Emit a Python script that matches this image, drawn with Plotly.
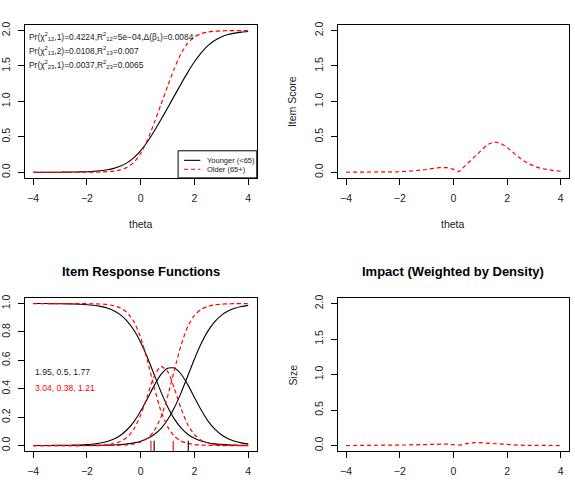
import plotly.graph_objects as go

# ---------------- data ----------------
theta = [-4.0, -3.75, -3.5, -3.25, -3.0, -2.75, -2.5, -2.25, -2.0, -1.75, -1.5, -1.25, -1.0,
         -0.75, -0.5, -0.25, 0.0, 0.25, 0.5, 0.75, 1.0, 1.25, 1.5, 1.75, 2.0, 2.25, 2.5,
         2.75, 3.0, 3.25, 3.5, 3.75, 4.0]

score_younger = [0.000, 0.000, 0.000, 0.001, 0.001, 0.002, 0.003, 0.005, 0.008, 0.013, 0.022,
                 0.035, 0.055, 0.088, 0.136, 0.207, 0.305, 0.430, 0.578, 0.740, 0.908, 1.078,
                 1.247, 1.410, 1.559, 1.686, 1.786, 1.859, 1.909, 1.943, 1.964, 1.978, 1.986]
score_older = [0.000, 0.000, 0.000, 0.000, 0.000, 0.000, 0.000, 0.000, 0.001, 0.002, 0.004,
               0.008, 0.016, 0.034, 0.070, 0.140, 0.264, 0.454, 0.694, 0.953, 1.214, 1.464,
               1.675, 1.822, 1.910, 1.956, 1.979, 1.990, 1.995, 1.998, 1.999, 2.000, 2.000]

theta_diff = [-4.0, -3.5, -3.0, -2.5, -2.0, -1.75, -1.5, -1.25, -1.0, -0.75, -0.5, -0.25, 0.0,
              0.1, 0.2, 0.25, 0.5, 0.75, 1.0, 1.25, 1.5, 1.75, 2.0, 2.25, 2.5, 2.75, 3.0,
              3.25, 3.5, 3.75, 4.0]
item_score_diff = [0.000, 0.000, 0.001, 0.003, 0.007, 0.012, 0.018, 0.027, 0.039, 0.054, 0.066,
                   0.067, 0.041, 0.019, 0.008, 0.024, 0.116, 0.213, 0.306, 0.386, 0.428, 0.413,
                   0.350, 0.270, 0.193, 0.131, 0.086, 0.055, 0.035, 0.022, 0.014]
impact_weighted = [0.000, 0.000, 0.001, 0.002, 0.004, 0.006, 0.009, 0.012, 0.016, 0.020, 0.022,
                   0.021, 0.012, 0.006, 0.003, 0.006, 0.028, 0.040, 0.040, 0.033, 0.025, 0.018,
                   0.012, 0.008, 0.005, 0.003, 0.002, 0.001, 0.001, 0.000, 0.000]

p0_younger = [1.000, 1.000, 1.000, 0.999, 0.999, 0.998, 0.997, 0.995, 0.992, 0.988, 0.980, 0.968,
              0.949, 0.920, 0.875, 0.812, 0.726, 0.620, 0.500, 0.380, 0.274, 0.188, 0.125, 0.080,
              0.051, 0.032, 0.020, 0.012, 0.008, 0.005, 0.003, 0.002, 0.001]
p1_younger = [0.000, 0.000, 0.000, 0.001, 0.001, 0.002, 0.003, 0.004, 0.007, 0.011, 0.018, 0.029,
              0.046, 0.073, 0.113, 0.169, 0.243, 0.331, 0.422, 0.499, 0.544, 0.546, 0.504, 0.429,
              0.339, 0.250, 0.174, 0.117, 0.076, 0.048, 0.030, 0.019, 0.012]
p2_younger = [0.000, 0.000, 0.000, 0.000, 0.000, 0.000, 0.000, 0.000, 0.001, 0.001, 0.002, 0.003,
              0.004, 0.007, 0.012, 0.019, 0.031, 0.049, 0.078, 0.120, 0.182, 0.266, 0.371, 0.490,
              0.610, 0.718, 0.806, 0.871, 0.917, 0.947, 0.967, 0.979, 0.987]
p0_older = [1.000, 1.000, 1.000, 1.000, 1.000, 1.000, 1.000, 1.000, 0.999, 0.998, 0.997, 0.993,
            0.985, 0.969, 0.936, 0.872, 0.760, 0.598, 0.410, 0.245, 0.132, 0.066, 0.032, 0.015,
            0.007, 0.003, 0.002, 0.001, 0.000, 0.000, 0.000, 0.000, 0.000]
p1_older = [0.000, 0.000, 0.000, 0.000, 0.000, 0.000, 0.000, 0.000, 0.001, 0.001, 0.003, 0.006,
            0.014, 0.029, 0.059, 0.117, 0.215, 0.351, 0.487, 0.557, 0.523, 0.403, 0.261, 0.147,
            0.076, 0.037, 0.018, 0.008, 0.004, 0.002, 0.001, 0.000, 0.000]
p2_older = [0.000, 0.000, 0.000, 0.000, 0.000, 0.000, 0.000, 0.000, 0.000, 0.000, 0.000, 0.001,
            0.001, 0.003, 0.005, 0.012, 0.025, 0.051, 0.104, 0.198, 0.346, 0.530, 0.707, 0.838,
            0.917, 0.959, 0.981, 0.991, 0.996, 0.998, 0.999, 1.000, 1.000]

thresholds_younger = [0.5, 1.77]
thresholds_older = [0.38, 1.21]

params_younger = "1.95, 0.5, 1.77"
params_older = "3.04, 0.38, 1.21"
group_labels = ["Younger (<65)", "Older (65+)"]

x_ticks = [-4, -2, 0, 2, 4]
y_ticks_score = [0.0, 0.5, 1.0, 1.5, 2.0]
y_ticks_prob = [0.0, 0.2, 0.4, 0.6, 0.8, 1.0]

# ---------------- layout helpers ----------------
W, H = 575, 489
FONT = "Liberation Sans, Arial, Helvetica, sans-serif"
BLACK = "#000000"
RED = "#ff0000"
DASH = "4px,3px"


def fx(p):
    return p / W


def fy(p):
    return 1 - p / H


def esc(s):
    return s.replace("&", "&amp;").replace("<", "&lt;").replace(">", "&gt;")


col_x = [(22.7, 255.7), (336.7, 569.3)]
row_y = [(22.0, 176.0), (296.7, 451.0)]

fig = go.Figure()

solid = dict(color=BLACK, width=1.1)
dashed = dict(color=RED, width=1.2, dash=DASH)

# Panel 1: expected item score
fig.add_trace(go.Scatter(x=theta, y=score_younger, mode="lines", line=dict(solid, shape="spline", smoothing=0.6),
                         xaxis="x", yaxis="y", showlegend=False))
fig.add_trace(go.Scatter(x=theta, y=score_older, mode="lines", line=dict(dashed, shape="spline", smoothing=0.6),
                         xaxis="x", yaxis="y", showlegend=False))

# Panel 2: absolute difference in item score
fig.add_trace(go.Scatter(x=theta_diff, y=item_score_diff, mode="lines", line=dashed,
                         xaxis="x2", yaxis="y2", showlegend=False))

# Panel 3: item response functions
for ys in (p0_younger, p1_younger, p2_younger):
    fig.add_trace(go.Scatter(x=theta, y=ys, mode="lines", line=dict(solid, shape="spline", smoothing=0.6),
                             xaxis="x3", yaxis="y3", showlegend=False))
for ys in (p0_older, p1_older, p2_older):
    fig.add_trace(go.Scatter(x=theta, y=ys, mode="lines", line=dict(dashed, shape="spline", smoothing=0.6),
                             xaxis="x3", yaxis="y3", showlegend=False))
for b in thresholds_older:
    fig.add_trace(go.Scatter(x=[b, b], y=[-0.04, 0.033], mode="lines", line=dict(color=RED, width=1.1),
                             xaxis="x3", yaxis="y3", showlegend=False))
for b in thresholds_younger:
    fig.add_trace(go.Scatter(x=[b, b], y=[-0.04, 0.033], mode="lines", line=dict(color=BLACK, width=1.1),
                             xaxis="x3", yaxis="y3", showlegend=False))

# Panel 4: impact weighted by density
fig.add_trace(go.Scatter(x=theta_diff, y=impact_weighted, mode="lines", line=dashed,
                         xaxis="x4", yaxis="y4", showlegend=False))

axis_common = dict(showline=True, mirror=True, linecolor=BLACK, linewidth=1, ticks="outside",
                   ticklen=6, tickwidth=1, tickcolor=BLACK, showgrid=False, zeroline=False,
                   tickfont=dict(family=FONT, size=10.5, color="#222"))

layout_axes = {}
panels = [(0, 0, "", y_ticks_score, [-0.08, 2.08], "0.1f"),
          (1, 0, "2", y_ticks_score, [-0.08, 2.08], "0.1f"),
          (0, 1, "3", y_ticks_prob, [-0.04, 1.04], "0.1f"),
          (1, 1, "4", y_ticks_score, [-0.08, 2.08], "0.1f")]
for c, r, s, yt, yr, fmt in panels:
    x0, x1 = col_x[c]
    t, b = row_y[r]
    layout_axes["xaxis" + s] = dict(axis_common, domain=[fx(x0), fx(x1)], range=[-4.32, 4.32],
                                    tickvals=x_ticks, anchor="y" + s, ticklabelstandoff=4)
    layout_axes["yaxis" + s] = dict(axis_common, domain=[fy(b), fy(t)], range=yr, tickvals=yt,
                                    tickformat=fmt, tickangle=-90, anchor="x" + s, ticklabelstandoff=3)

fig.update_layout(**layout_axes)

annotations = []
txt_font = dict(family=FONT, size=10.5, color="#222")
# axis titles
annotations.append(dict(text="theta", x=fx(139), y=fy(222), xref="paper", yref="paper", showarrow=False,
                        font=txt_font, xanchor="center", yanchor="middle"))
annotations.append(dict(text="theta", x=fx(453), y=fy(222), xref="paper", yref="paper", showarrow=False,
                        font=txt_font, xanchor="center", yanchor="middle"))
annotations.append(dict(text="Item Score", x=fx(291.7), y=fy(99), xref="paper", yref="paper", showarrow=False,
                        font=txt_font, textangle=-90, xanchor="center", yanchor="middle"))
annotations.append(dict(text="Size", x=fx(291.7), y=fy(374), xref="paper", yref="paper", showarrow=False,
                        font=txt_font, textangle=-90, xanchor="center", yanchor="middle"))
# titles
title_font = dict(family=FONT, size=13, color=BLACK)
annotations.append(dict(text="<b>Item Response Functions</b>", x=fx(139), y=fy(270), xref="paper", yref="paper",
                        showarrow=False, font=title_font, xanchor="center", yanchor="middle"))
annotations.append(dict(text="<b>Impact (Weighted by Density)</b>", x=fx(453), y=fy(270), xref="paper",
                        yref="paper", showarrow=False, font=title_font, xanchor="center", yanchor="middle"))
# statistics text in panel 1
small = dict(family=FONT, size=8.6, color="#222")
stats_font = dict(family=FONT, size=8.4, color="#222")
legend_font = dict(family=FONT, size=7.5, color="#222")
stats_lines = [
    "Pr(χ<sup>2</sup><sub>12</sub>,1)=0.4224,R<sup>2</sup><sub>12</sub>=5e−04,Δ(β<sub>1</sub>)=0.0084",
    "Pr(χ<sup>2</sup><sub>13</sub>,2)=0.0108,R<sup>2</sup><sub>13</sub>=0.007",
    "Pr(χ<sup>2</sup><sub>23</sub>,1)=0.0037,R<sup>2</sup><sub>23</sub>=0.0065",
]
for i, ln in enumerate(stats_lines):
    annotations.append(dict(text=ln, x=fx(25.5), y=fy(33.3 + 14.4 * i), xref="paper", yref="paper",
                            showarrow=False, font=stats_font, xanchor="left", yanchor="middle"))
# parameter text in panel 3
annotations.append(dict(text=params_younger, x=fx(31.5), y=fy(371), xref="paper", yref="paper",
                        showarrow=False, font=small, xanchor="left", yanchor="middle"))
annotations.append(dict(text=params_older, x=fx(31.5), y=fy(387), xref="paper", yref="paper",
                        showarrow=False, font=dict(small, color=RED), xanchor="left", yanchor="middle"))
# legend text
annotations.append(dict(text=esc(group_labels[0]), x=fx(203.5), y=fy(158.3), xref="paper", yref="paper",
                        showarrow=False, font=legend_font, xanchor="left", yanchor="middle"))
annotations.append(dict(text=esc(group_labels[1]), x=fx(203.5), y=fy(167.3), xref="paper", yref="paper",
                        showarrow=False, font=legend_font, xanchor="left", yanchor="middle"))

shapes = [
    dict(type="rect", xref="paper", yref="paper", x0=fx(176.7), x1=fx(255.7), y0=fy(176), y1=fy(148.7),
         line=dict(color=BLACK, width=1), fillcolor="white", layer="above"),
    dict(type="line", xref="paper", yref="paper", x0=fx(182.7), x1=fx(199), y0=fy(158.3), y1=fy(158.3),
         line=dict(color=BLACK, width=1.1)),
    dict(type="line", xref="paper", yref="paper", x0=fx(182.7), x1=fx(199), y0=fy(167.3), y1=fy(167.3),
         line=dict(color=RED, width=1.2, dash=DASH)),
]

fig.update_layout(width=W, height=H, margin=dict(l=0, r=0, t=0, b=0), paper_bgcolor="white",
                  plot_bgcolor="white", showlegend=False, annotations=annotations, shapes=shapes,
                  font=dict(family=FONT))

fig.write_html("out.html")
